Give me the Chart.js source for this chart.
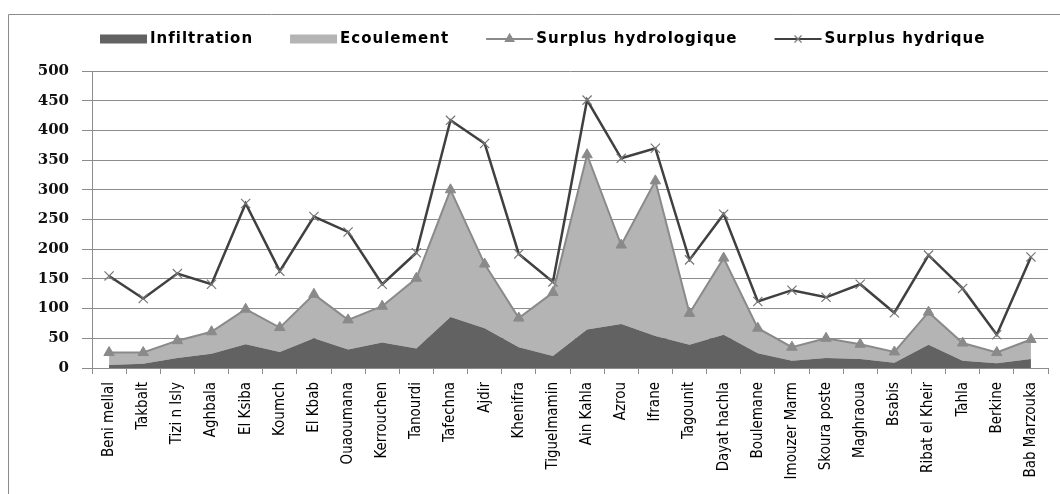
<!DOCTYPE html>
<html>
<head>
<meta charset="utf-8">
<script src="https://cdn.jsdelivr.net/npm/chart.js@4"></script>
<style>
  html, body { margin: 0; padding: 0; background: #fff; }
  #myChart { display: block; }
</style>
</head>
<body>
<canvas id="myChart" width="1060" height="494"></canvas>
<script>
const stations = ['Beni mellal', 'Takbalt', 'Tizi n Isly', 'Aghbala', 'El Ksiba', 'Koumch', 'El Kbab',
  'Ouaoumana', 'Kerrouchen', 'Tanourdi', 'Tafechna', 'Ajdir', 'Khenifra', 'Tiguelmamin', 'Ain Kahla',
  'Azrou', 'Ifrane', 'Tagounit', 'Dayat hachla', 'Boulemane', 'Imouzer Marm', 'Skoura poste',
  'Maghraoua', 'Bsabis', 'Ribat el Kheir', 'Tahla', 'Berkine', 'Bab Marzouka'];

const infiltration = [5, 7, 17, 24, 40, 27, 50, 31, 43, 33, 86, 67, 35, 20, 65, 74, 54, 39, 56, 25, 12, 17, 15, 9, 39, 12, 8, 15];
const ecoulement = [21, 19, 29, 37, 59, 41, 74, 50, 61, 118, 214, 108, 49, 107, 294, 133, 261, 53, 129, 42, 23, 33, 25, 18, 55, 30, 18, 33];
const surplusHydrologique = [26, 26, 46, 61, 99, 68, 124, 81, 104, 151, 300, 175, 84, 127, 359, 207, 315, 92, 185, 67, 35, 50, 40, 27, 94, 42, 26, 48];
const surplusHydrique = [155, 117, 159, 141, 277, 163, 255, 229, 141, 194, 417, 378, 192, 145, 451, 353, 370, 182, 259, 112, 131, 119, 141, 93, 190, 134, 56, 187];

const yTicks = [0, 50, 100, 150, 200, 250, 300, 350, 400, 450, 500];

// frame + legend drawn by hand (line legend with markers)
const frameLegend = {
  id: 'frameLegend',
  afterDraw(chart) {
    const c = chart.ctx;
    c.save();
    c.strokeStyle = '#8c8c8c';
    c.lineWidth = 1;
    c.beginPath();
    c.moveTo(8.5, 494);
    c.lineTo(8.5, 14.5);
    c.lineTo(1060, 14.5);
    c.stroke();

    c.font = 'bold 15px "DejaVu Sans", Verdana, sans-serif';
    c.letterSpacing = '1px';
    c.textBaseline = 'middle';
    c.textAlign = 'left';
    let x = 100;
    const y = 39;
    chart.data.datasets.forEach(ds => {
      if (ds.fill) {
        c.fillStyle = ds.backgroundColor;
        c.fillRect(x, y - 4.5, 47, 9);
      } else {
        c.strokeStyle = ds.borderColor;
        c.lineWidth = 2;
        c.beginPath();
        c.moveTo(x, y);
        c.lineTo(x + 47, y);
        c.stroke();
        c.fillStyle = ds.pointBackgroundColor;
        c.strokeStyle = ds.pointBorderColor;
        c.lineWidth = 1.2;
        Chart.helpers.drawPoint(c, { pointStyle: ds.pointStyle, radius: 5, borderWidth: 1.2 }, x + 23.5, y);
      }
      c.fillStyle = '#000';
      c.fillText(ds.label, x + 50, y);
      x += 50 + c.measureText(ds.label).width + 37;
    });
    c.restore();
  }
};

const ctx = document.getElementById('myChart').getContext('2d');

const myChart = new Chart(ctx, {
  type: 'line',
  data: {
    labels: stations,
    datasets: [{
      label: 'Infiltration',
      data: infiltration,
      stack: 'area',
      fill: 'origin',
      order: 1,
      backgroundColor: '#626262',
      borderColor: '#626262',
      borderWidth: 0,
      pointRadius: 0,
      tension: 0
    }, {
      label: 'Ecoulement',
      data: ecoulement,
      stack: 'area',
      fill: '-1',
      order: 1,
      backgroundColor: '#b4b4b4',
      borderColor: '#b4b4b4',
      borderWidth: 0,
      pointRadius: 0,
      tension: 0
    }, {
      label: 'Surplus hydrologique',
      data: surplusHydrologique,
      stack: 'hydrologique',
      fill: false,
      order: 0,
      borderColor: '#8a8a8a',
      borderWidth: 2,
      pointStyle: 'triangle',
      pointRadius: 6,
      pointBackgroundColor: '#8a8a8a',
      pointBorderColor: '#8a8a8a',
      pointBorderWidth: 1,
      tension: 0
    }, {
      label: 'Surplus hydrique',
      data: surplusHydrique,
      stack: 'hydrique',
      fill: false,
      order: 0,
      borderColor: '#404040',
      borderWidth: 2.5,
      pointStyle: 'crossRot',
      pointRadius: 6.5,
      pointBackgroundColor: '#777777',
      pointBorderColor: '#777777',
      pointBorderWidth: 1.2,
      tension: 0
    }]
  },
  options: {
    responsive: false,
    animation: false,
    layout: { padding: { top: 71, right: 12, bottom: 0, left: 0 } },
    plugins: {
      legend: { display: false },
      tooltip: { enabled: false }
    },
    scales: {
      x: {
        offset: true,
        grid: { offset: true, drawOnChartArea: false, tickLength: 6, color: '#8c8c8c' },
        border: { color: '#8c8c8c' },
        ticks: {
          autoSkip: false,
          minRotation: 90,
          maxRotation: 90,
          padding: 8,
          color: '#000',
          font: { family: '"Liberation Sans Narrow", "DejaVu Sans Condensed", "Roboto Condensed", sans-serif', size: 15 }
        },
        afterFit(scale) { scale.height = 126; }
      },
      y: {
        stacked: true,
        min: 0,
        max: 500,
        afterBuildTicks(scale) { scale.ticks = yTicks.map(v => ({ value: v })); },
        grid: { color: '#8c8c8c', tickLength: 10 },
        border: { color: '#8c8c8c' },
        ticks: {
          padding: 13,
          color: '#111',
          font: { family: '"DejaVu Serif", "Liberation Serif", serif', size: 15, weight: 'bold' }
        },
        afterFit(scale) { scale.width = 92; }
      }
    }
  },
  plugins: [frameLegend]
});
</script>
</body>
</html>
